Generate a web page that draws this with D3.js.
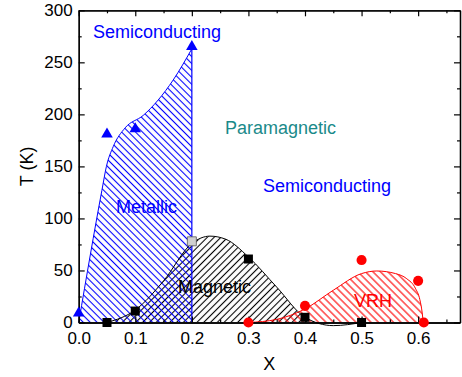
<!DOCTYPE html>
<html>
<head>
<meta charset="utf-8">
<script src="https://cdn.jsdelivr.net/npm/d3@7"></script>
<style>
  body { margin: 0; background: #fff; }
  svg { display: block; }
  text { font-family: "Liberation Sans", Arial, sans-serif; }
</style>
</head>
<body>
<svg id="chart" width="462" height="377"></svg>
<script>
// data
const xTicks = [0, 0.1, 0.2, 0.3, 0.4, 0.5, 0.6];
const yTicks = [0, 50, 100, 150, 200, 250, 300];

// metallic / semiconducting boundary (blue)
const metalX = [0, 0.041, 0.049, 0.061, 0.082, 0.114, 0.167, 0.2];
const metalT = [0, 127, 150, 169, 187, 199, 233, 263];
const triX = [0, 0.05, 0.1, 0.2];
const triT = [9, 181, 186, 265];

// magnetic dome (black)
const magX = [0.05, 0.1, 0.15, 0.2, 0.232, 0.26, 0.3, 0.35, 0.4, 0.45, 0.5];
const magT = [0, 12, 40, 76, 83, 80, 63, 34, 5, -3, 0];
const sqX = [0.05, 0.1, 0.3, 0.4, 0.5];
const sqT = [0, 11, 61, 5, 0];
const graySqX = [0.2];
const graySqT = [78];

// VRH region (red)
const vrhX = [0.3, 0.35, 0.4, 0.45, 0.5, 0.527, 0.56, 0.58, 0.595, 0.603, 0.607, 0.609];
const vrhT = [0, 3, 13, 31, 47, 49.5, 47, 42, 33, 22, 10, 0];
const dotX = [0.3, 0.4, 0.5, 0.6, 0.61];
const dotT = [0, 16, 60, 40, 0];

const plotL = 78.7, plotR = 460, plotT = 10.3, plotB = 322.5;

const svg = d3.select('#chart');
const x = d3.scaleLinear().domain([0, 0.674]).range([plotL, plotR]);
const y = d3.scaleLinear().domain([0, 300]).range([plotB, plotT]);

const defs = svg.append('defs');

// hatch patterns
function hatch(id, color, angle, gap) {
  defs.append('pattern')
    .attr('id', id)
    .attr('patternUnits', 'userSpaceOnUse')
    .attr('width', gap)
    .attr('height', gap)
    .attr('patternTransform', `rotate(${angle})`)
    .append('line')
    .attr('x1', gap / 2).attr('y1', -1)
    .attr('x2', gap / 2).attr('y2', gap + 1)
    .attr('stroke', color)
    .attr('stroke-width', 1.1);
}
hatch('hBlue', '#0000ff', -45, 4.9);
hatch('hBlack', '#000', 45, 4.8);
hatch('hRed', '#ff0000', -45, 5.3);

defs.append('clipPath').attr('id', 'above0')
  .append('rect')
  .attr('x', plotL).attr('y', plotT)
  .attr('width', plotR - plotL).attr('height', plotB - plotT);

const zip = (xs, ts) => xs.map((v, i) => [v, ts[i]]);

const area = d3.area()
  .x(d => x(d[0]))
  .y0(y(0))
  .y1(d => y(d[1]))
  .curve(d3.curveMonotoneX);
const line = d3.line()
  .x(d => x(d[0]))
  .y(d => y(d[1]))
  .curve(d3.curveMonotoneX);

const magData = zip(magX, magT);
const vrhData = zip(vrhX, vrhT);
const metalData = zip(metalX, metalT);

// fills
svg.append('path')
  .attr('d', area(magData))
  .attr('clip-path', 'url(#above0)')
  .attr('fill', 'url(#hBlack)');
svg.append('path')
  .attr('d', area(vrhData))
  .attr('fill', 'url(#hRed)');
svg.append('path')
  .attr('d', area(metalData))
  .attr('fill', 'url(#hBlue)');

// outlines
svg.append('path')
  .attr('d', line(magData))
  .attr('fill', 'none')
  .attr('stroke', '#000')
  .attr('stroke-width', 1);
svg.append('path')
  .attr('d', line(vrhData))
  .attr('fill', 'none')
  .attr('stroke', '#ff0000')
  .attr('stroke-width', 1);
svg.append('path')
  .attr('d', line(metalData))
  .attr('fill', 'none')
  .attr('stroke', '#0000ff')
  .attr('stroke-width', 1);
svg.append('line')
  .attr('x1', x(0.2)).attr('x2', x(0.2))
  .attr('y1', y(metalT[metalT.length - 1])).attr('y2', y(0))
  .attr('stroke', '#0000ff')
  .attr('stroke-width', 1.2);

// axes
const minorX = d3.range(0.05, 0.674, 0.1);
const minorY = d3.range(25, 300, 50);

function styleAxis(g) {
  g.selectAll('path.domain').attr('stroke', '#000').attr('stroke-width', 1.3);
  g.selectAll('.tick line').attr('stroke', '#000').attr('stroke-width', 1.2);
  g.selectAll('.tick text').attr('font-size', 17).attr('fill', '#000')
    .attr('font-family', '"Liberation Sans", Arial, sans-serif');
}

svg.append('g')
  .attr('transform', `translate(0,${plotB})`)
  .call(d3.axisBottom(x).tickValues(xTicks).tickFormat(d3.format('.1f'))
    .tickSize(-6).tickSizeOuter(0).tickPadding(9))
  .call(styleAxis);
svg.append('g')
  .attr('transform', `translate(0,${plotB})`)
  .call(d3.axisBottom(x).tickValues(minorX).tickFormat('').tickSize(-3).tickSizeOuter(0))
  .call(styleAxis);
svg.append('g')
  .attr('transform', `translate(0,${plotT})`)
  .call(d3.axisTop(x).tickValues(xTicks).tickFormat('').tickSize(-6).tickSizeOuter(0))
  .call(styleAxis);
svg.append('g')
  .attr('transform', `translate(0,${plotT})`)
  .call(d3.axisTop(x).tickValues(minorX).tickFormat('').tickSize(-3).tickSizeOuter(0))
  .call(styleAxis);

svg.append('g')
  .attr('transform', `translate(${plotL},0)`)
  .call(d3.axisLeft(y).tickValues(yTicks).tickSize(-6).tickSizeOuter(0).tickPadding(6))
  .call(styleAxis);
svg.append('g')
  .attr('transform', `translate(${plotL},0)`)
  .call(d3.axisLeft(y).tickValues(minorY).tickFormat('').tickSize(-3).tickSizeOuter(0))
  .call(styleAxis);
svg.append('g')
  .attr('transform', `translate(${plotR},0)`)
  .call(d3.axisRight(y).tickValues(yTicks).tickFormat('').tickSize(-6).tickSizeOuter(0))
  .call(styleAxis);
svg.append('g')
  .attr('transform', `translate(${plotR},0)`)
  .call(d3.axisRight(y).tickValues(minorY).tickFormat('').tickSize(-3).tickSizeOuter(0))
  .call(styleAxis);

// markers
svg.selectAll('path.tri')
  .data(zip(triX, triT))
  .enter().append('path')
  .attr('class', 'tri')
  .attr('d', d3.symbol(d3.symbolTriangle, 58))
  .attr('transform', d => `translate(${x(d[0])},${y(d[1])})`)
  .attr('fill', '#0000ff');

svg.selectAll('path.sq')
  .data(zip(sqX, sqT))
  .enter().append('path')
  .attr('class', 'sq')
  .attr('d', d3.symbol(d3.symbolSquare, 81))
  .attr('transform', d => `translate(${x(d[0])},${y(d[1])})`)
  .attr('fill', '#000');

svg.selectAll('path.gsq')
  .data(zip(graySqX, graySqT))
  .enter().append('path')
  .attr('class', 'gsq')
  .attr('d', d3.symbol(d3.symbolSquare, 81))
  .attr('transform', d => `translate(${x(d[0])},${y(d[1])})`)
  .attr('fill', '#d0d0d0')
  .attr('stroke', '#555')
  .attr('stroke-width', 0.8);

svg.selectAll('path.dot')
  .data(zip(dotX, dotT))
  .enter().append('path')
  .attr('class', 'dot')
  .attr('d', d3.symbol(d3.symbolCircle, 80))
  .attr('transform', d => `translate(${x(d[0])},${y(d[1])})`)
  .attr('fill', '#ff0000');

// region labels
const labels = [
  { t: 'Semiconducting', x: 93, y: 38, c: '#0000ff' },
  { t: 'Paramagnetic', x: 225, y: 134, c: '#1a8a8a' },
  { t: 'Semiconducting', x: 263, y: 192, c: '#0000ff' },
  { t: 'Metallic', x: 116, y: 213, c: '#0000ff' },
  { t: 'Magnetic', x: 178, y: 293, c: '#000' },
  { t: 'VRH', x: 354, y: 307, c: '#ff0000' }
];
svg.selectAll('text.lbl')
  .data(labels)
  .enter().append('text')
  .attr('class', 'lbl')
  .attr('x', d => d.x)
  .attr('y', d => d.y)
  .attr('fill', d => d.c)
  .attr('font-size', 18)
  .text(d => d.t);

// axis titles
svg.append('text')
  .attr('x', (plotL + plotR) / 2)
  .attr('y', 370)
  .attr('text-anchor', 'middle')
  .attr('font-size', 18)
  .text('X');
svg.append('text')
  .attr('transform', `translate(33,${(plotT + plotB) / 2}) rotate(-90)`)
  .attr('text-anchor', 'middle')
  .attr('font-size', 18)
  .text('T (K)');
</script>
</body>
</html>
